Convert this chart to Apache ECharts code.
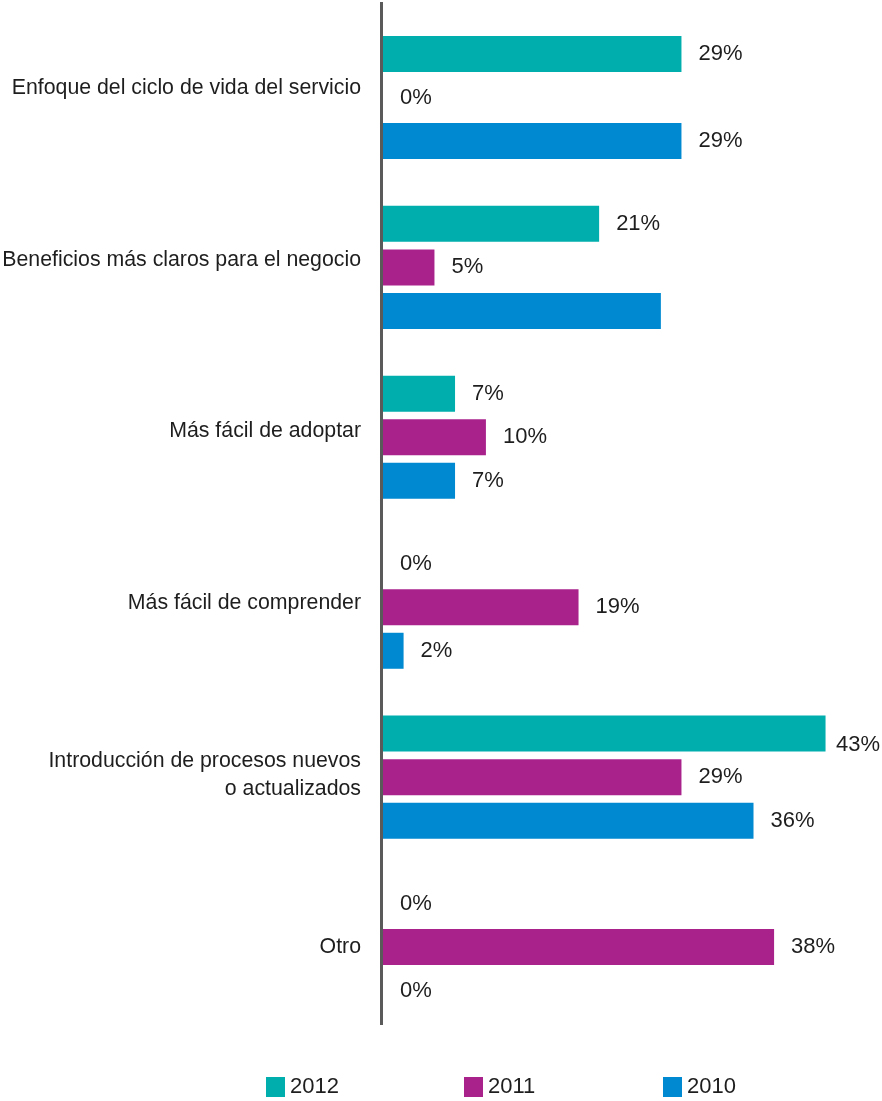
<!DOCTYPE html>
<html>
<head>
<meta charset="utf-8">
<title>Mejoras percibidas</title>
<script src="https://cdn.jsdelivr.net/npm/echarts@6/dist/echarts.min.js"></script>
<style>
  html, body { margin: 0; padding: 0; background: #ffffff; }
  #chart { width: 882px; height: 1101px; }
</style>
</head>
<body>
<div id="chart"></div>
<script>
// Categories, top to bottom
var categories = [
  'Enfoque del ciclo de vida del servicio',
  'Beneficios más claros para el negocio',
  'Más fácil de adoptar',
  'Más fácil de comprender',
  'Introducción de procesos nuevos\no actualizados',
  'Otro'
];

// Percentages per year
var values2012 = [29, 21, 7, 0, 43, 0];
var values2011 = [0, 5, 10, 19, 29, 38];
var values2010 = [29, 27, 7, 2, 36, 0];

// The 2010 bar for the second category carries no printed value
var unlabeled2010 = [1];

var years = ['2012', '2011', '2010'];
var colors = { '2012': '#00AEAD', '2011': '#A9218B', '2010': '#0089D0' };

var FONT = '"Liberation Sans", Arial, sans-serif';
var TEXT = '#1e1e1e';
var WIDTH = 882;

function makeSeries(name, values, hidden) {
  return {
    name: name,
    type: 'bar',
    xAxisIndex: 0,
    yAxisIndex: 0,
    barWidth: 36,
    barGap: '21%',
    itemStyle: { color: colors[name] },
    label: {
      show: true,
      position: 'right',
      distance: 17,
      fontFamily: FONT,
      fontSize: 22,
      color: TEXT,
      formatter: '{c}%'
    },
    // keep value labels inside the canvas
    labelLayout: function (p) {
      var r = p.labelRect;
      if (r.x + r.width > WIDTH - 2) {
        return { x: WIDTH - 2 - r.width };
      }
      return {};
    },
    data: values.map(function (v, i) {
      if (hidden && hidden.indexOf(i) !== -1) {
        return { value: v, label: { show: false } };
      }
      return v;
    })
  };
}

function legendFor(year, left) {
  return {
    data: [year],
    left: left,
    top: 1071,
    itemWidth: 19,
    itemHeight: 20,
    icon: 'rect',
    textStyle: {
      fontFamily: FONT,
      fontSize: 22,
      color: TEXT
    }
  };
}

var chart = echarts.init(document.getElementById('chart'), null, { renderer: 'canvas' });

chart.setOption({
  animation: false,
  backgroundColor: '#ffffff',
  grid: [
    // bars
    { left: 383, right: 5, top: 12.5, bottom: 69, containLabel: false, outerBoundsMode: 'none' },
    // category names
    { left: 383, right: 5, top: 2, bottom: 68, containLabel: false, outerBoundsMode: 'none' }
  ],
  legend: [
    legendFor('2012', 261),
    legendFor('2011', 459),
    legendFor('2010', 658)
  ],
  xAxis: [
    { type: 'value', gridIndex: 0, min: 0, max: 48, show: false },
    { type: 'value', gridIndex: 1, min: 0, max: 48, show: false }
  ],
  yAxis: [
    {
      type: 'category',
      gridIndex: 0,
      data: categories,
      inverse: true,
      axisLine: { show: false },
      axisTick: { show: false },
      splitLine: { show: false },
      axisLabel: { show: false }
    },
    {
      type: 'category',
      gridIndex: 1,
      data: categories,
      inverse: true,
      axisLine: { show: false },
      axisTick: { show: false },
      splitLine: { show: false },
      axisLabel: {
        margin: 22,
        fontFamily: FONT,
        fontSize: 21.3,
        lineHeight: 28,
        color: TEXT,
        align: 'right'
      }
    }
  ],
  graphic: [{
    type: 'rect',
    shape: { x: 380, y: 2, width: 3, height: 1023 },
    style: { fill: '#5a5a5a' },
    z: 10
  }],
  series: [
    makeSeries('2012', values2012),
    makeSeries('2011', values2011),
    makeSeries('2010', values2010, unlabeled2010)
  ]
});
</script>
</body>
</html>
